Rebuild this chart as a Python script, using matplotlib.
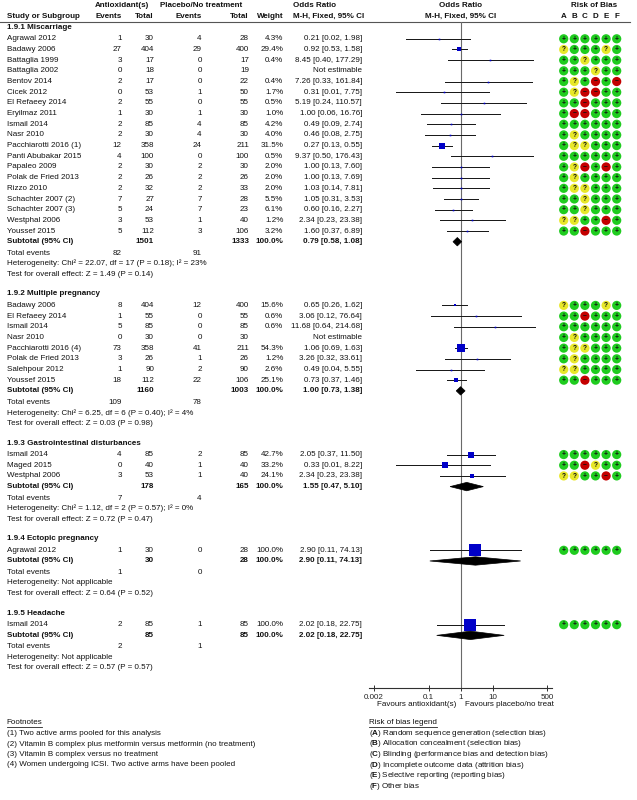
import numpy as np
import matplotlib
matplotlib.use("Agg")
from matplotlib import pyplot as plt
from matplotlib.patches import Polygon

plt.rcParams["font.family"] = ["Liberation Sans", "DejaVu Sans"]
plt.rcParams["mathtext.fontset"] = "custom"
plt.rcParams["mathtext.rm"] = "Liberation Sans"
plt.rcParams["mathtext.bf"] = "Liberation Sans:bold"

# ---------------- data ----------------
group_titles = ["1.9.1 Miscarriage", "1.9.2 Multiple pregnancy",
                "1.9.3 Gastrointestinal disturbances", "1.9.4 Ectopic pregnancy",
                "1.9.5 Headache"]

study = ["Agrawal 2012", "Badawy 2006", "Battaglia 1999", "Battaglia 2002", "Bentov 2014",
         "Cicek 2012", "El Refaeey 2014", "Eryilmaz 2011", "Ismail 2014", "Nasr 2010",
         "Pacchiarotti 2016 (1)", "Panti Abubakar 2015", "Papaleo 2009", "Polak de Fried 2013",
         "Rizzo 2010", "Schachter 2007 (2)", "Schachter 2007 (3)", "Westphal 2006", "Youssef 2015",
         "Badawy 2006", "El Refaeey 2014", "Ismail 2014", "Nasr 2010", "Pacchiarotti 2016 (4)",
         "Polak de Fried 2013", "Salehpour 2012", "Youssef 2015",
         "Ismail 2014", "Maged 2015", "Westphal 2006",
         "Agrawal 2012",
         "Ismail 2014"]
group_of = [0] * 19 + [1] * 8 + [2] * 3 + [3] + [4]

events_a = [1, 27, 3, 0, 2, 0, 2, 1, 2, 2, 12, 4, 2, 2, 2, 7, 5, 3, 5,
            8, 1, 5, 0, 73, 3, 1, 18,
            4, 0, 3,
            1,
            2]
total_a = [30, 404, 17, 18, 17, 53, 55, 30, 85, 30, 358, 100, 30, 26, 32, 27, 24, 53, 112,
           404, 55, 85, 30, 358, 26, 90, 112,
           85, 40, 53,
           30,
           85]
events_p = [4, 29, 0, 0, 0, 1, 0, 1, 4, 4, 24, 0, 2, 2, 2, 7, 7, 1, 3,
            12, 0, 0, 0, 41, 1, 2, 22,
            2, 1, 1,
            0,
            1]
total_p = [28, 400, 17, 19, 22, 50, 55, 30, 85, 30, 211, 100, 30, 26, 33, 28, 23, 40, 106,
           400, 55, 85, 30, 211, 26, 90, 106,
           85, 40, 40,
           28,
           85]
weight = [4.3, 29.4, 0.4, None, 0.4, 1.7, 0.5, 1.0, 4.2, 4.0, 31.5, 0.5, 2.0, 2.0, 2.0, 5.5, 6.1, 1.2, 3.2,
          15.6, 0.6, 0.6, None, 54.3, 1.2, 2.6, 25.1,
          42.7, 33.2, 24.1,
          100.0,
          100.0]
or_est = [0.21, 0.92, 8.45, None, 7.26, 0.31, 5.19, 1.00, 0.49, 0.46, 0.27, 9.37, 1.00, 1.00, 1.03, 1.05, 0.60, 2.34, 1.60,
          0.65, 3.06, 11.68, None, 1.06, 3.26, 0.49, 0.73,
          2.05, 0.33, 2.34,
          2.90,
          2.02]
or_low = [0.02, 0.53, 0.40, None, 0.33, 0.01, 0.24, 0.06, 0.09, 0.08, 0.13, 0.50, 0.13, 0.13, 0.14, 0.31, 0.16, 0.23, 0.37,
          0.26, 0.12, 0.64, None, 0.69, 0.32, 0.04, 0.37,
          0.37, 0.01, 0.23,
          0.11,
          0.18]
or_high = [1.98, 1.58, 177.29, None, 161.84, 7.75, 110.57, 16.76, 2.74, 2.75, 0.55, 176.43, 7.60, 7.69, 7.81, 3.53, 2.27, 23.38, 6.89,
           1.62, 76.64, 214.68, None, 1.63, 33.61, 5.55, 1.46,
           11.50, 8.22, 23.38,
           74.13,
           22.75]
risk_of_bias = ["++++++", "?+++?+", "++?+++", "+++?++", "+?+-+-", "+?--++", "++-+++", "+--+++",
                "++++++", "+?++++", "+??+++", "++++++", "+?-+-+", "+?++++", "+??+++", "++?+++",
                "++?+++", "??++-+", "++-+++",
                "?+++?+", "++-+++", "++++++", "+?++++", "+??+++", "+?++++", "??++++", "++-+++",
                "++++++", "++-?++", "??++-+",
                "++++++",
                "++++++"]

sub_total_a = [1501, 1160, 178, 30, 85]
sub_total_p = [1333, 1003, 165, 28, 85]
sub_or = [0.79, 1.00, 1.55, 2.90, 2.02]
sub_low = [0.58, 0.73, 0.47, 0.11, 0.18]
sub_high = [1.08, 1.38, 5.10, 74.13, 22.75]
tot_events_a = [82, 109, 7, 1, 2]
tot_events_p = [91, 78, 4, 0, 1]
heterogeneity = ["Heterogeneity: Chi² = 22.07, df = 17 (P = 0.18); I² = 23%",
                 "Heterogeneity: Chi² = 6.25, df = 6 (P = 0.40); I² = 4%",
                 "Heterogeneity: Chi² = 1.12, df = 2 (P = 0.57); I² = 0%",
                 "Heterogeneity: Not applicable",
                 "Heterogeneity: Not applicable"]
overall_effect = ["Test for overall effect: Z = 1.49 (P = 0.14)",
                  "Test for overall effect: Z = 0.03 (P = 0.98)",
                  "Test for overall effect: Z = 0.72 (P = 0.47)",
                  "Test for overall effect: Z = 0.64 (P = 0.52)",
                  "Test for overall effect: Z = 0.57 (P = 0.57)"]

axis_ticks = [0.002, 0.1, 1, 10, 500]
axis_tick_labels = ["0.002", "0.1", "1", "10", "500"]
bias_letters = ["A", "B", "C", "D", "E", "F"]
footnotes = ["(1) Two active arms pooled for this analysis",
             "(2) Vitamin B complex plus metformin versus metformin (no treatment)",
             "(3) Vitamin B complex versus no treatment",
             "(4) Women undergoing ICSI. Two active arms have been pooled"]
bias_legend = ["Random sequence generation (selection bias)",
               "Allocation concealment (selection bias)",
               "Blinding (performance bias and detection bias)",
               "Incomplete outcome data (attrition bias)",
               "Selective reporting (reporting bias)",
               "Other bias"]

# ---------------- layout (pixel units) ----------------
W, H = 637, 800
FS = 5.8
X_STUDY = 6.7
X_EV_A, X_TOT_A, X_EV_P, X_TOT_P, X_WT, X_OR = 121.7, 154.0, 201.7, 249.0, 283.3, 362.0
PLOT_L, PLOT_R, PLOT_TOP, PLOT_BOT = 369.3, 552.3, 22.0, 688.0
ROB_X0, ROB_DX = 563.7, 10.6
BLUE = "#0000c8"
ROB_COL = {"+": "#1fcc1f", "?": "#e8e82a", "-": "#c40000"}
ROB_SYM = {"+": "+", "?": "?", "-": "\u2212"}

fig = plt.figure(figsize=(W / 100, H / 100), dpi=100)
ax = fig.add_axes([0, 0, 1, 1])
ax.set_xlim(0, W)
ax.set_ylim(H, 0)
ax.axis("off")

fx = fig.add_axes([PLOT_L / W, (H - PLOT_BOT) / H, (PLOT_R - PLOT_L) / W, (PLOT_BOT - PLOT_TOP) / H])
fx.set_xscale("log")
fx.set_xlim(10 ** ((PLOT_L - 460.6) / 32.1), 10 ** ((PLOT_R - 460.6) / 32.1))
fx.set_ylim(PLOT_BOT, PLOT_TOP)
fx.patch.set_visible(False)
for side in ["top", "left", "right"]:
    fx.spines[side].set_visible(False)
fx.spines["bottom"].set_linewidth(0.8)
fx.spines["bottom"].set_color("#303030")
fx.set_yticks([])
fx.set_xticks(axis_ticks)
fx.set_xticklabels(axis_tick_labels)
fx.minorticks_off()
fx.tick_params(axis="x", direction="inout", length=5, width=0.7, color="#303030",
               labelsize=FS, pad=1.5, labelcolor="#222222")
fx.axvline(1, color="#6a6a6a", lw=0.8)


def txt(x, y, s, ha="left", bold=False, **kw):
    return ax.text(x, y, s, ha=ha, va="center", fontsize=FS,
                   fontweight="bold" if bold else "normal", color="#111111", **kw)


# header
txt(122, 5.5, "Antioxidant(s)", ha="center", bold=True)
txt(201.5, 5.5, "Placebo/No treatment", ha="center", bold=True)
txt(292.7, 5.5, "Odds Ratio", bold=True)
txt(292.7, 16, "M-H, Fixed, 95% CI", bold=True)
txt(460.3, 5.5, "Odds Ratio", ha="center", bold=True)
txt(460.3, 16, "M-H, Fixed, 95% CI", ha="center", bold=True)
txt(594, 5.5, "Risk of Bias", ha="center", bold=True)
txt(X_STUDY, 16, "Study or Subgroup", bold=True)
txt(X_EV_A, 16, "Events", ha="right", bold=True)
txt(X_TOT_A, 16, "Total", ha="right", bold=True)
txt(X_EV_P, 16, "Events", ha="right", bold=True)
txt(X_TOT_P, 16, "Total", ha="right", bold=True)
txt(X_WT, 16, "Weight", ha="right", bold=True)
for k, letter in enumerate(bias_letters):
    txt(ROB_X0 + k * ROB_DX, 16, letter, ha="center", bold=True)
ax.plot([0, 630], [21.5, 21.5], color="#555555", lw=0.8)


def or_text(m, lo, hi):
    return f"{m:.2f} [{lo:.2f}, {hi:.2f}]"


y = 27.3
for g, title in enumerate(group_titles):
    txt(X_STUDY, y, title, bold=True)
    y += 11.5
    idx = [i for i, gg in enumerate(group_of) if gg == g]
    for i in idx:
        txt(X_STUDY, y, study[i])
        txt(X_EV_A, y, str(events_a[i]), ha="right")
        txt(X_TOT_A, y, str(total_a[i]), ha="right")
        txt(X_EV_P, y, str(events_p[i]), ha="right")
        txt(X_TOT_P, y, str(total_p[i]), ha="right")
        if weight[i] is not None:
            txt(X_WT, y, f"{weight[i]:.1f}%", ha="right")
            txt(X_OR, y, or_text(or_est[i], or_low[i], or_high[i]), ha="right")
            fx.plot([or_low[i], or_high[i]], [y, y], color="#1a1a1a", lw=0.72, zorder=3)
            side = max(1.6, 1.43 * np.sqrt(weight[i]) - 3.0)
            fx.plot([or_est[i]], [y], marker="s", ms=side * 0.72, color=BLUE,
                    mec=BLUE, mew=0, zorder=4)
        else:
            txt(X_OR, y, "Not estimable", ha="right")
        for k, code in enumerate(risk_of_bias[i]):
            cx = ROB_X0 + k * ROB_DX
            ax.scatter([cx], [y], s=44, color=ROB_COL[code], edgecolors="none", zorder=3)
            ax.text(cx, y + 0.2, ROB_SYM[code], ha="center", va="center", fontsize=4.8,
                    fontweight="bold", color="#101010", zorder=4)
        y += 10.68
    # subtotal
    txt(X_STUDY, y, "Subtotal (95% CI)", bold=True)
    txt(X_TOT_A, y, str(sub_total_a[g]), ha="right", bold=True)
    txt(X_TOT_P, y, str(sub_total_p[g]), ha="right", bold=True)
    txt(X_WT, y, "100.0%", ha="right", bold=True)
    txt(X_OR, y, or_text(sub_or[g], sub_low[g], sub_high[g]), ha="right", bold=True)
    dia = Polygon([[sub_low[g], y], [sub_or[g], y - 4.2], [sub_high[g], y], [sub_or[g], y + 4.2]],
                  closed=True, facecolor="black", edgecolor="black", lw=0.5, zorder=5)
    fx.add_patch(dia)
    y += 11.5
    txt(X_STUDY, y, "Total events")
    txt(X_EV_A, y, str(tot_events_a[g]), ha="right")
    txt(X_EV_P, y, str(tot_events_p[g]), ha="right")
    y += 10.4
    txt(X_STUDY, y, heterogeneity[g])
    y += 10.5
    txt(X_STUDY, y, overall_effect[g])
    y += 19.8

# favours labels
txt(456.7, 705, "Favours antioxidant(s)", ha="right")
txt(464.7, 705, "Favours placebo/no treat")

# footnotes and legend
fig.canvas.draw()
renderer = fig.canvas.get_renderer()


def underlined(x, yy, s):
    t = txt(x, yy, s)
    bb = t.get_window_extent(renderer)
    ax.plot([bb.x0, bb.x1], [yy + 4.3, yy + 4.3], color="#222222", lw=0.6)


underlined(X_STUDY, 722.3, "Footnotes")
for k, note in enumerate(footnotes):
    txt(X_STUDY, 733.6 + k * 10.4, note)

underlined(PLOT_L, 722.7, "Risk of bias legend")
for k, (letter, label) in enumerate(zip(bias_letters, bias_legend)):
    txt(PLOT_L, 733.3 + k * 10.6, "($\\mathbf{" + letter + "}$) " + label)

fig.savefig("out.png", dpi=100)
plt.close(fig)
